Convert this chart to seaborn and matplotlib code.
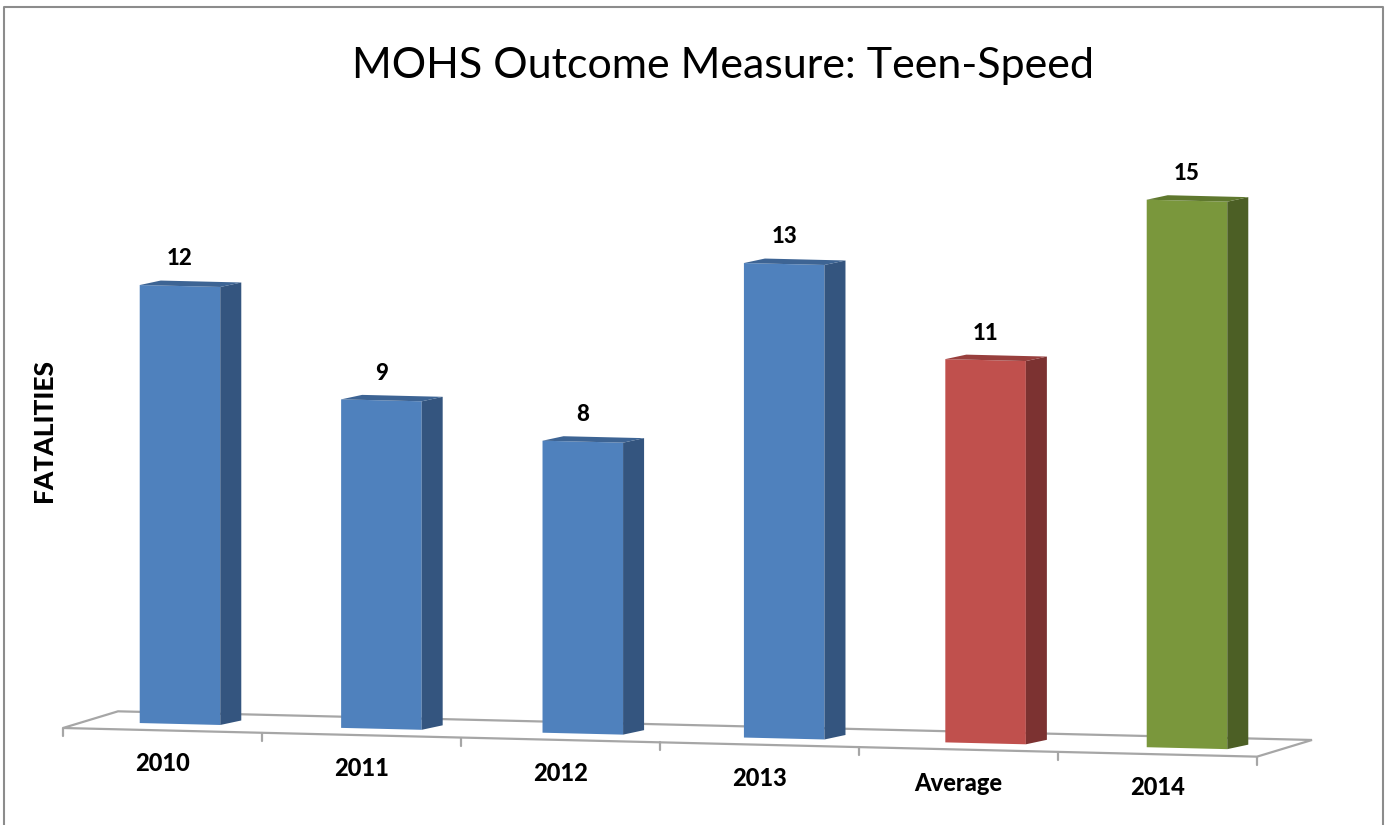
import numpy as np
import matplotlib
matplotlib.use('Agg')
import matplotlib.pyplot as plt
from matplotlib.patches import Polygon
from matplotlib.lines import Line2D
from matplotlib.transforms import Affine2D
import seaborn as sns

# Data
categories = ['2010', '2011', '2012', '2013', 'Average', '2014']
fatalities = [12, 9, 8, 13, 10.5, 15]
front_colors = ['#4F81BD', '#4F81BD', '#4F81BD', '#4F81BD', '#C0504D', '#7A973C']
top_colors = ['#3D6494', '#3D6494', '#3D6494', '#3D6494', '#983F3D', '#5F782E']
side_colors = ['#34557F', '#34557F', '#34557F', '#34557F', '#7C3231', '#4C5F25']

sns.set_theme(style='white')
plt.rcParams['font.family'] = ['Lato', 'DejaVu Sans']

W, H = 1385, 825
fig = plt.figure(figsize=(W / 100, H / 100), dpi=100)
ax = fig.add_axes([0, 0, 1, 1])

# pixel layout of the fake 3D scene
CAT_PX = 201.4      # pixels per category
UNIT_PX = 36.5      # pixels per fatality
X0_PX = 180         # centre of first bar
BASE_PX = 721.2     # bar baseline (from top) at the pivot
PIVOT_PX = 63
SLOPE = 0.024       # floor tilts down to the right

# depth of the bars and of the floor, in data units
DX, DY = 21 / CAT_PX, 5 / UNIT_PX
FDX, FDY = 55 / CAT_PX, 18 / UNIT_PX
FX0, FX1, FY = (63 - X0_PX) / CAT_PX, (1257 - X0_PX) / CAT_PX, -6.8 / UNIT_PX

skew = Affine2D().translate(-PIVOT_PX, 0).skew(0, -np.arctan(SLOPE)).translate(PIVOT_PX, 0)
tr = ax.transData + skew

sns.barplot(x=categories, y=fatalities, hue=categories, palette=front_colors,
            width=0.4, saturation=1, legend=False, linewidth=0, ax=ax, zorder=3)

# floor
floor = Polygon([(FX0, FY), (FX1, FY), (FX1 + FDX, FY + FDY), (FX0 + FDX, FY + FDY)],
                closed=True, facecolor='white', edgecolor='#A6A6A6', lw=1.6,
                transform=tr, zorder=1)
ax.add_patch(floor)
step = (FX1 - FX0) / len(categories)
for k in range(len(categories) + 1):
    ax.plot([FX0 + k * step] * 2, [FY, FY - 0.22], color='#A6A6A6', lw=1.6,
            transform=tr, zorder=1)
for k, cat in enumerate(categories):
    ax.text(FX0 + (k + 0.5) * step, -1.107, cat, transform=tr, ha='center', va='center',
            fontsize=17, fontweight='black', color='black')

# 3D faces and value labels
bars = sorted(ax.patches[:len(categories)], key=lambda p: p.get_x())
for bar, val, top_c, side_c in zip(bars, fatalities, top_colors, side_colors):
    bar.set_transform(tr)
    x, w, h = bar.get_x(), bar.get_width(), bar.get_height()
    side = Polygon([(x + w, 0), (x + w + DX, DY), (x + w + DX, h + DY), (x + w, h)],
                   closed=True, facecolor=side_c, lw=0, transform=tr, zorder=3)
    top = Polygon([(x, h), (x + DX, h + DY), (x + w + DX, h + DY), (x + w, h)],
                  closed=True, facecolor=top_c, lw=0, transform=tr, zorder=3)
    ax.add_patch(side)
    ax.add_patch(top)
    ax.text(x + w / 2, h + 0.74, str(int(np.floor(val + 0.5))), transform=tr,
            ha='center', va='center', fontsize=16, fontweight='black', color='black')

ax.set_xlim(-X0_PX / CAT_PX, (W - X0_PX) / CAT_PX)
ax.set_ylim(-(H - BASE_PX) / UNIT_PX, BASE_PX / UNIT_PX)
ax.axis('off')

fig.text(723.5 / W, 1 - 78 / H, 'MOHS Outcome Measure: Teen-Speed', ha='center',
         va='baseline', fontsize=31, color='black')
fig.text(44 / W, 1 - 431 / H, 'FATALITIES', rotation=90, ha='center', va='center',
         fontsize=19, fontweight='black', color='black')

# chart border
fig.add_artist(Line2D([3.5 / W, 3.5 / W, 1383 / W, 1383 / W], [0, 1 - 7 / H, 1 - 7 / H, 0],
                      transform=fig.transFigure, color='#8C8C8C', lw=1.5))

fig.savefig('out.png', dpi=100)
